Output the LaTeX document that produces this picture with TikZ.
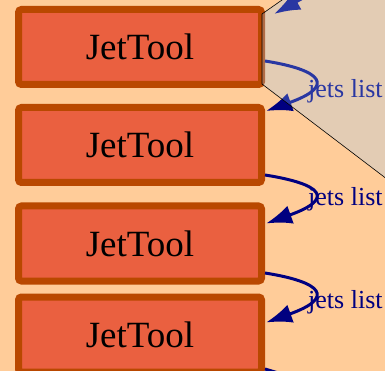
\documentclass[tikz,border=0pt]{standalone}
\usepackage{fontspec}
\setmainfont{Liberation Serif}
\usetikzlibrary{arrows.meta}
\definecolor{bgpeach}{RGB}{255,204,153}
\definecolor{boxfill}{RGB}{234,96,64}
\definecolor{boxline}{RGB}{185,72,0}
\definecolor{navy}{RGB}{0,0,128}
\definecolor{veil}{RGB}{153,204,255}
\tikzset{
  toolbox/.style={draw=boxline, fill=boxfill, line width=7pt, rounded corners=3pt,
    minimum width=243pt, minimum height=75pt, inner sep=0pt,
    font=\fontsize{37}{40}\selectfont, text=black},
  flow/.style={draw=navy, line width=3pt, -{Latex[length=26pt,width=19pt]}},
  flowlabel/.style={text=navy, font=\fontsize{26}{30}\selectfont, anchor=base west, inner sep=0pt},
}
\begin{document}
\begin{tikzpicture}[x=1pt,y=-1pt]
\useasboundingbox (0,0) rectangle (385,371);
\clip (0,0) rectangle (385,371);
\fill[bgpeach] (0,0) rectangle (385,371);

\node[toolbox] (b1) at (140,47) {JetTool};
\node[toolbox] (b2) at (140,145) {JetTool};
\node[toolbox] (b3) at (140,243.5) {JetTool};
\node[toolbox] (b4) at (140,334.5) {JetTool};

\coordinate (topstart) at (312,-7);
\coordinate (topend) at (274,14);
\coordinate (botend) at (300,400);

\draw[flow] (topstart) -- (topend);
\draw[flow] ([yshift=-14pt]b1.east) .. controls +(57,9) and +(70,-25) .. ([xshift=1pt,yshift=-7pt]b2.north east);
\draw[flow] ([yshift=-30pt]b2.east) .. controls +(57,9) and +(70,-25) .. ([xshift=1pt,yshift=-21pt]b3.north east);
\draw[flow] ([yshift=-29.5pt]b3.east) .. controls +(57,9) and +(70,-25) .. ([xshift=1pt,yshift=-29pt]b4.north east);
\draw[flow] ([yshift=-34.5pt]b4.east) .. controls +(20,6) and +(0,-20) .. (botend);

\node[flowlabel] (l1) at (308,98) {jets list};
\node[flowlabel] (l2) at (308,206) {jets list};
\node[flowlabel] (l3) at (308,308) {jets list};

\path[fill=veil, fill opacity=0.27, draw=black, line width=0.6pt]
  (262,84) -- (262,14) -- (302,-14) -- (400,-14) -- (400,189) -- cycle;
\end{tikzpicture}
\end{document}
